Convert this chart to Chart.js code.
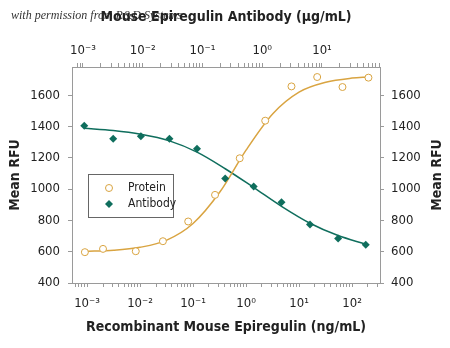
<!DOCTYPE html>
<html>
<head>
<meta charset="utf-8">
<script src="https://cdn.jsdelivr.net/npm/chart.js@4/dist/chart.umd.min.js"></script>
<style>
  html, body { margin: 0; padding: 0; background: #fff; }
  #wrap { width: 450px; height: 348px; }
</style>
</head>
<body>
<div id="wrap"><canvas id="chart" width="450" height="348"></canvas></div>
<script>
// ================= DATA =================
// Recombinant Mouse Epiregulin (ng/mL) -> bottom axis
const proteinConc = [0.00091, 0.0020, 0.0083, 0.027, 0.081, 0.26, 0.76, 2.3, 7.2, 22, 66, 204];
const proteinRFU  = [597, 618, 603, 667, 793, 963, 1197, 1437, 1656, 1716, 1652, 1712];

// Mouse Epiregulin Antibody (ug/mL) -> top axis
const antibodyConc = [0.00105, 0.0032, 0.0093, 0.028, 0.081, 0.24, 0.72, 2.1, 6.3, 18.6, 54];
const antibodyRFU  = [1405, 1322, 1337, 1322, 1257, 1067, 1016, 916, 773, 684, 645];

// fitted curves
const proteinFitConc = [0.0009, 0.0032, 0.01, 0.032, 0.1, 0.32, 1, 3.2, 10, 32, 100, 204];
const proteinFitRFU  = [602, 609, 628, 674, 780, 981, 1249, 1482, 1620, 1683, 1709, 1716];
const antibodyFitConc = [0.00105, 0.0032, 0.0093, 0.028, 0.081, 0.24, 0.72, 2.1, 6.3, 18.6, 54];
const antibodyFitRFU  = [1388, 1374, 1350, 1308, 1236, 1130, 1010, 890, 782, 703, 648];

const yTicks = [400, 600, 800, 1000, 1200, 1400, 1600];

// ================= STYLE =================
const FONT = "'DejaVu Sans Condensed', 'Liberation Sans', sans-serif";
const ORANGE = '#d9a441';
const GREEN = '#0f6e5d';
const AXIS = '#9a9a9a';
const TEXT = '#222';

const sup = { '-': '\u207B', '0': '\u2070', '1': '\u00B9', '2': '\u00B2', '3': '\u00B3' };
function powLabel(v) {
    const e = Math.log10(v);
    if (Math.abs(e - Math.round(e)) > 1e-6) return '';
    return '10' + String(Math.round(e)).split('').map(c => sup[c] || c).join('');
}
function keepNiceLogTicks(scale) {
    scale.ticks = scale.ticks.filter(t => {
        const m = t.value / Math.pow(10, Math.floor(Math.log10(t.value) + 1e-9));
        return Math.abs(m - Math.round(m)) < 1e-6;
    });
}

function pts(xs, ys) {
    return xs.map((x, i) => ({ x: x, y: ys[i] }));
}

// ================= PLUGINS =================
const watermark = {
    id: 'watermark',
    beforeDraw(chart) {
        const ctx = chart.ctx;
        ctx.save();
        ctx.fillStyle = '#333';
        ctx.font = "italic 12px 'Liberation Serif', 'DejaVu Serif', serif";
        ctx.textBaseline = 'middle';
        ctx.fillText('with permission from R&D Systems', 11, 16);
        ctx.restore();
    }
};

const extras = {
    id: 'extras',
    afterDraw(chart) {
        const ctx = chart.ctx;
        ctx.save();
        // right axis title reads bottom-to-top like the left one
        ctx.translate(437, 175);
        ctx.rotate(-Math.PI / 2);
        ctx.font = 'bold 14px ' + FONT;
        ctx.fillStyle = TEXT;
        ctx.textAlign = 'center';
        ctx.textBaseline = 'middle';
        ctx.fillText('Mean RFU', 0, 0);
        ctx.restore();

        // legend box
        ctx.save();
        ctx.fillStyle = '#fff';
        ctx.strokeStyle = '#666';
        ctx.lineWidth = 1;
        ctx.fillRect(88, 174, 85, 43);
        ctx.strokeRect(88.5, 174.5, 85, 43);
        ctx.beginPath();
        ctx.arc(109, 188, 3.5, 0, Math.PI * 2);
        ctx.strokeStyle = ORANGE;
        ctx.stroke();
        ctx.beginPath();
        ctx.moveTo(109, 200);
        ctx.lineTo(113, 204);
        ctx.lineTo(109, 208);
        ctx.lineTo(105, 204);
        ctx.closePath();
        ctx.fillStyle = GREEN;
        ctx.fill();
        ctx.font = '12px ' + FONT;
        ctx.fillStyle = TEXT;
        ctx.textBaseline = 'middle';
        ctx.fillText('Protein', 128, 188);
        ctx.fillText('Antibody', 128, 204);
        ctx.restore();
    }
};

// ================= CHART =================
const tickFont = { family: FONT, size: 13 };
const titleFont = { family: FONT, size: 14, weight: 'bold' };
const gridOpts = { drawOnChartArea: false, drawTicks: true, tickLength: 4, color: AXIS };
const borderOpts = { display: true, color: AXIS, width: 1 };

new Chart(document.getElementById('chart'), {
    type: 'line',
    data: {
        datasets: [
            {
                label: 'Protein',
                data: pts(proteinConc, proteinRFU),
                xAxisID: 'x', yAxisID: 'y',
                showLine: false,
                pointStyle: 'circle',
                pointRadius: 3.5,
                pointBorderWidth: 1,
                pointBorderColor: ORANGE,
                pointBackgroundColor: '#fff'
            },
            {
                label: 'Antibody',
                data: pts(antibodyConc, antibodyRFU),
                xAxisID: 'x2', yAxisID: 'y',
                showLine: false,
                pointStyle: 'rectRot',
                pointRadius: 4,
                pointBorderWidth: 0,
                pointBackgroundColor: GREEN,
                pointBorderColor: GREEN
            },
            {
                label: 'Protein fit',
                data: pts(proteinFitConc, proteinFitRFU),
                xAxisID: 'x', yAxisID: 'y',
                borderColor: ORANGE,
                borderWidth: 1.5,
                pointRadius: 0,
                cubicInterpolationMode: 'monotone'
            },
            {
                label: 'Antibody fit',
                data: pts(antibodyFitConc, antibodyFitRFU),
                xAxisID: 'x2', yAxisID: 'y',
                borderColor: GREEN,
                borderWidth: 1.5,
                pointRadius: 0,
                cubicInterpolationMode: 'monotone'
            }
        ]
    },
    options: {
        responsive: false,
        animation: false,
        layout: { padding: 0 },
        plugins: {
            legend: { display: false },
            tooltip: { enabled: false }
        },
        scales: {
            x: {
                type: 'logarithmic',
                position: 'bottom',
                min: 5.2e-4,
                max: 337,
                grid: gridOpts,
                border: borderOpts,
                afterBuildTicks: keepNiceLogTicks,
                afterFit: s => { s.height = 65; },
                ticks: {
                    autoSkip: false, maxRotation: 0, padding: 9,
                    font: tickFont, color: TEXT,
                    callback: v => powLabel(v)
                },
                title: {
                    display: true,
                    text: 'Recombinant Mouse Epiregulin (ng/mL)',
                    font: titleFont, color: TEXT,
                    padding: { top: 0, bottom: 12 }
                }
            },
            x2: {
                type: 'logarithmic',
                position: 'top',
                min: 6.55e-4,
                max: 93.5,
                grid: gridOpts,
                border: borderOpts,
                afterBuildTicks: keepNiceLogTicks,
                afterFit: s => { s.height = 67; },
                ticks: {
                    autoSkip: false, maxRotation: 0, padding: 5,
                    font: tickFont, color: TEXT,
                    callback: v => powLabel(v)
                },
                title: {
                    display: true,
                    text: 'Mouse Epiregulin Antibody (\u03BCg/mL)',
                    font: titleFont, color: TEXT,
                    padding: { top: 9, bottom: 0 }
                }
            },
            y: {
                position: 'left',
                min: 400,
                max: 1780,
                grid: gridOpts,
                border: borderOpts,
                afterBuildTicks: s => { s.ticks = yTicks.map(v => ({ value: v })); },
                afterFit: s => { s.width = 72; },
                ticks: { padding: 8, font: tickFont, color: TEXT, callback: v => String(v) },
                title: {
                    display: true,
                    text: 'Mean RFU',
                    font: titleFont, color: TEXT,
                    padding: { top: 7, bottom: 0 }
                }
            },
            y2: {
                position: 'right',
                min: 400,
                max: 1780,
                grid: gridOpts,
                border: borderOpts,
                afterBuildTicks: s => { s.ticks = yTicks.map(v => ({ value: v })); },
                afterFit: s => { s.width = 70; },
                ticks: { padding: 7, font: tickFont, color: TEXT, callback: v => String(v) }
            }
        }
    },
    plugins: [watermark, extras]
});
</script>
</body>
</html>
